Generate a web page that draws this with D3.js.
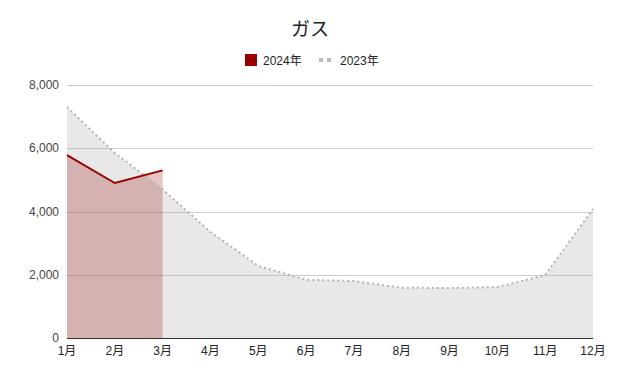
<!DOCTYPE html>
<html>
<head>
<meta charset="utf-8">
<script src="https://cdn.jsdelivr.net/npm/d3@7"></script>
<style>
  body { margin: 0; background: #fff; }
  text { font-family: Arial, "Liberation Sans", "Noto Sans CJK JP", sans-serif; }
</style>
</head>
<body>
<div id="chart"></div>
<script>
// data
const months = ["1月","2月","3月","4月","5月","6月","7月","8月","9月","10月","11月","12月"];
const gas2024 = [5780, 4900, 5300];
const gas2023 = [7300, 5850, 4700, 3350, 2280, 1840, 1800, 1590, 1580, 1610, 1990, 4080];
const yTicks = [0, 2000, 4000, 6000, 8000];

const width = 620, height = 370;
const margin = {top: 85, right: 27, bottom: 32, left: 67};

const svg = d3.select("#chart")
  .append("svg")
  .attr("width", width)
  .attr("height", height);

let xScale = d3.scalePoint()
  .domain(months)
  .range([margin.left, width - margin.right]);

let yScale = d3.scaleLinear()
  .domain([0, 8000])
  .range([height - margin.bottom, margin.top]);

// gridlines
svg.append("g")
  .selectAll("line")
  .data(yTicks.filter(d => d > 0))
  .enter()
  .append("line")
    .attr("x1", margin.left)
    .attr("x2", width - margin.right)
    .attr("y1", d => Math.round(yScale(d)) + 0.5)
    .attr("y2", d => Math.round(yScale(d)) + 0.5)
    .attr("stroke", "#cccccc");

// y labels
svg.append("g")
  .selectAll("text")
  .data(yTicks)
  .enter()
  .append("text")
    .attr("x", margin.left - 8)
    .attr("y", d => yScale(d) + 4)
    .attr("text-anchor", "end")
    .attr("font-size", "12px")
    .attr("fill", "#444")
    .text(d => d3.format(",")(d));

const area = d3.area()
  .x((d, i) => xScale(months[i]))
  .y0(yScale(0))
  .y1(d => yScale(d));

const line = d3.line()
  .x((d, i) => xScale(months[i]))
  .y(d => yScale(d));

// 2023 area + 2024 area
svg.append("path")
  .datum(gas2023)
  .attr("d", area)
  .attr("fill", "#aaaaaa")
  .attr("fill-opacity", 0.27);

svg.append("path")
  .datum(gas2024)
  .attr("d", area)
  .attr("fill", "#990000")
  .attr("fill-opacity", 0.23);

svg.append("path")
  .datum(gas2023)
  .attr("d", line)
  .attr("fill", "none")
  .attr("stroke", "#b4b4b4")
  .attr("stroke-width", 2)
  .attr("stroke-dasharray", "2,3");

svg.append("path")
  .datum(gas2024)
  .attr("d", line)
  .attr("fill", "none")
  .attr("stroke", "#990000")
  .attr("stroke-width", 2);

// baseline
svg.append("line")
  .attr("x1", margin.left)
  .attr("x2", width - margin.right)
  .attr("y1", yScale(0) + 0.5)
  .attr("y2", yScale(0) + 0.5)
  .attr("stroke", "#333333");

// x labels
svg.append("g")
  .selectAll("text")
  .data(months)
  .enter()
  .append("text")
    .attr("x", d => xScale(d))
    .attr("y", height - margin.bottom + 17)
    .attr("text-anchor", "middle")
    .attr("font-size", "12px")
    .attr("fill", "#222")
    .text(d => d);

// title
svg.append("text")
  .attr("x", width / 2)
  .attr("y", 36)
  .attr("text-anchor", "middle")
  .attr("font-size", "19px")
  .attr("fill", "#222")
  .text("ガス");

// legend
const legend = svg.append("g");
legend.append("rect")
  .attr("x", 245).attr("y", 54)
  .attr("width", 12).attr("height", 12)
  .attr("fill", "#990000");
legend.append("text")
  .attr("x", 263).attr("y", 65)
  .attr("font-size", "12px").attr("fill", "#222")
  .text("2024年");
legend.append("line")
  .attr("x1", 319).attr("x2", 333)
  .attr("y1", 60).attr("y2", 60)
  .attr("stroke", "#bbbbbb")
  .attr("stroke-width", 4)
  .attr("stroke-dasharray", "4,4");
legend.append("text")
  .attr("x", 340).attr("y", 65)
  .attr("font-size", "12px").attr("fill", "#222")
  .text("2023年");
</script>
</body>
</html>
